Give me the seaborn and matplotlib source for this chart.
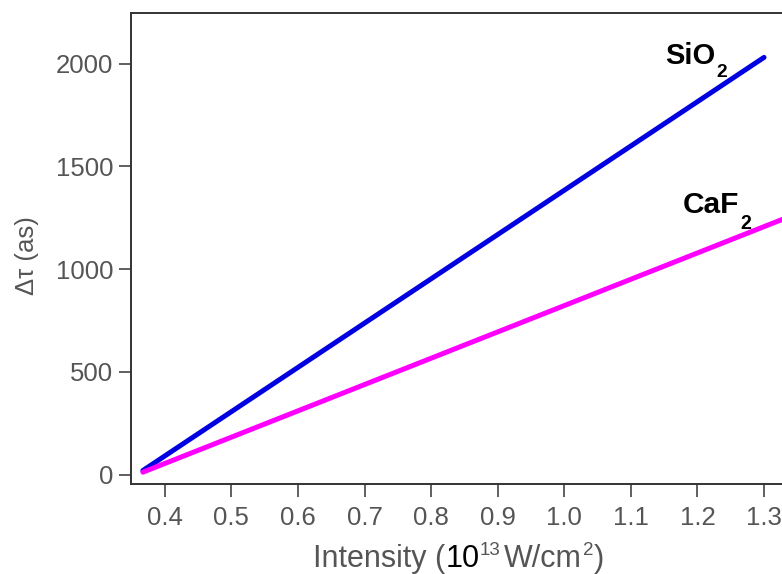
import matplotlib
matplotlib.use("Agg")
import matplotlib.pyplot as plt
import seaborn as sns
import pandas as pd

# Data: time delay versus laser intensity for two materials
sio2_intensity = [0.367, 1.30]
sio2_delay = [20, 2030]
caf2_intensity = [0.367, 1.33]
caf2_delay = [12, 1245]
x_ticks = [0.4, 0.5, 0.6, 0.7, 0.8, 0.9, 1.0, 1.1, 1.2, 1.3]
y_ticks = [0, 500, 1000, 1500, 2000]

sns.set_theme(style="ticks")
plt.rcParams["font.family"] = ["Liberation Sans", "DejaVu Sans"]

gray = "#555555"
df = pd.concat([
    pd.DataFrame({"I": sio2_intensity, "dt": sio2_delay, "m": "SiO2"}),
    pd.DataFrame({"I": caf2_intensity, "dt": caf2_delay, "m": "CaF2"}),
])

fig = plt.figure(figsize=(7.82, 5.74), dpi=100)
ax = fig.add_axes([0.168, 0.157, 0.832, 0.82])
sns.lineplot(data=df, x="I", y="dt", hue="m",
             palette={"SiO2": "#0000e0", "CaF2": "#ff00ff"},
             linewidth=3.6, legend=False, ax=ax)

ax.set_xlim(0.3497, 1.327)
ax.set_ylim(-45, 2245)
ax.set_xticks(x_ticks)
ax.set_xticklabels([f"{v:.1f}" for v in x_ticks])
ax.set_yticks(y_ticks)
ax.tick_params(axis="both", direction="out", length=9, width=1.2, color="#444444",
               labelsize=18.5, labelcolor=gray)
ax.tick_params(axis="x", pad=7)
ax.tick_params(axis="y", pad=4)
for side in ["left", "bottom", "top"]:
    ax.spines[side].set_color("#333333")
    ax.spines[side].set_linewidth(1.4)
ax.spines["right"].set_visible(False)
ax.set_xlabel("")
ax.set_ylabel("Δτ (as)", fontsize=18.5, color=gray)
ax.yaxis.set_label_coords(-0.142, 0.486)


def chem_label(x, y, base, sub, size):
    """Bold formula with a lowered subscript digit."""
    t = ax.text(x, y, base, fontsize=size, weight="bold", color="black", va="baseline")
    ax.annotate(sub, xy=(1, 0), xycoords=t, xytext=(1, 4), textcoords="offset points",
                fontsize=size * 0.66, weight="bold", color="black", va="top", ha="left",
                annotation_clip=False)


chem_label(1.151, 2000, "SiO", "2", 21)
chem_label(1.178, 1272, "CaF", "2", 21.5)

# x-axis title assembled piecewise: black mantissa, small raised exponents
big, small = 22, 13.5
t1 = fig.text(0.4003, 0.0125, "Intensity (", fontsize=big, color=gray, va="baseline")
t2 = ax.annotate("10", xy=(1, 0), xycoords=t1, fontsize=big, color="black",
                 va="bottom", ha="left", annotation_clip=False)
t3 = ax.annotate("13", xy=(1, 1), xycoords=t2, xytext=(0.5, 1.5), textcoords="offset points",
                 fontsize=small, color=gray, va="top", ha="left", annotation_clip=False)
t4 = ax.annotate("W/cm", xy=(1, 0), xycoords=(t3, t2), xytext=(2.5, 0), textcoords="offset points",
                 fontsize=big, color=gray, va="bottom", ha="left", annotation_clip=False)
t5 = ax.annotate("2", xy=(1, 1), xycoords=t4, xytext=(0.5, 1.5), textcoords="offset points",
                 fontsize=small, color=gray, va="top", ha="left", annotation_clip=False)
t6 = ax.annotate(")", xy=(1, 0), xycoords=(t5, t4), xytext=(0.5, 0), textcoords="offset points",
                 fontsize=big, color=gray, va="bottom", ha="left", annotation_clip=False)

fig.savefig("out.png", dpi=100)
